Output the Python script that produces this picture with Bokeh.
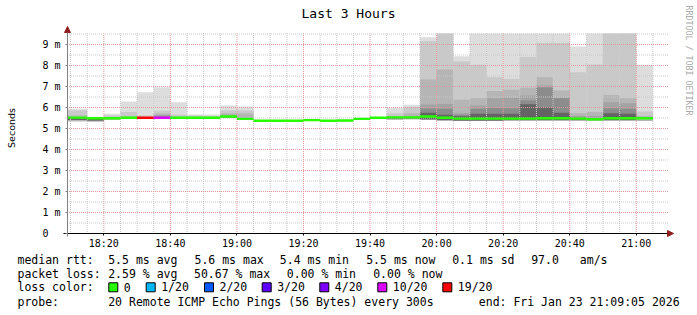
import numpy as np
import pandas as pd
from bokeh.plotting import figure
from bokeh.models import (ColumnDataSource, Range1d, FixedTicker, DatetimeTickFormatter,
                          Arrow, NormalHead)
from bokeh.core.properties import value
from bokeh.embed import file_html
from bokeh.resources import INLINE

# ---------------- data (values in milliseconds) ----------------
bin_start = pd.date_range("2026-01-23 18:05:00", periods=36, freq="5min")

median_ms = [5.52, 5.52, 5.49, 5.49, 5.51, 5.51, 5.51, 5.51, 5.51, 5.51, 5.57, 5.46,
             5.37, 5.37, 5.37, 5.40, 5.37, 5.38, 5.46, 5.51, 5.53, 5.53, 5.57, 5.51,
             5.47, 5.47, 5.47, 5.47, 5.47, 5.49, 5.49, 5.47, 5.44, 5.49, 5.49, 5.49]

loss_pings = [0, 0, 0, 0, 0, 19, 10, 0, 0, 0, 0, 0,
              0, 0, 0, 0, 0, 0, 0, 0, 0, 0, 0, 0,
              0, 0, 0, 0, 0, 0, 0, 0, 0, 0, 0, 0]

# smoke: upper edges of the grey bands (outermost = max ping)
smoke_1 = [5.94, 5.94, 5.56, 5.70, 6.29, 6.73, 6.97, 6.25, 5.67, 5.67, 6.10, 6.05,
           5.40, 5.40, 5.40, 5.44, 5.40, 5.40, 5.48, 5.55, 5.98, 6.13, 9.35, 9.60,
           8.44, 9.60, 9.60, 9.60, 9.60, 9.60, 9.60, 8.90, 9.60, 9.60, 9.60, 8.03]
smoke_2 = [5.86, 5.86, 5.52, 5.62, 5.78, 5.62, 5.85, 5.65, 5.62, 5.60, 5.86, 5.86,
           5.39, 5.39, 5.39, 5.42, 5.39, 5.40, 5.47, 5.53, 5.73, 6.02, 9.16, 9.60,
           8.19, 8.03, 7.44, 7.37, 8.40, 9.08, 9.08, 7.68, 8.05, 9.60, 9.60, 5.81]
smoke_3 = [5.62, 5.62, 5.50, 5.55, 5.58, 5.55, 5.72, 5.56, 5.55, 5.55, 5.72, 5.72,
           5.37, 5.37, 5.37, 5.40, 5.37, 5.38, 5.46, 5.51, 5.60, 5.73, 7.33, 7.81,
           6.37, 6.44, 6.78, 6.84, 6.94, 7.44, 6.81, 5.73, 5.78, 6.60, 6.44, 5.60]
smoke_4 = [5.52, 5.52, 5.49, 5.49, 5.51, 5.51, 5.64, 5.51, 5.51, 5.51, 5.65, 5.46,
           5.37, 5.37, 5.37, 5.40, 5.37, 5.38, 5.46, 5.51, 5.53, 5.60, 6.14, 6.17,
           5.73, 6.10, 6.44, 6.46, 6.57, 7.05, 6.46, 5.60, 5.60, 6.25, 6.20, 5.49]
smoke_5 = [5.52, 5.52, 5.49, 5.49, 5.51, 5.51, 5.58, 5.51, 5.51, 5.51, 5.60, 5.46,
           5.37, 5.37, 5.37, 5.40, 5.37, 5.38, 5.46, 5.51, 5.53, 5.55, 5.95, 5.94,
           5.65, 5.94, 5.98, 5.97, 6.33, 6.95, 6.44, 5.55, 5.44, 5.97, 5.94, 5.49]
smoke_6 = [5.52, 5.52, 5.49, 5.49, 5.51, 5.51, 5.51, 5.51, 5.51, 5.51, 5.57, 5.46,
           5.37, 5.37, 5.37, 5.40, 5.37, 5.38, 5.46, 5.51, 5.53, 5.53, 5.75, 5.65,
           5.58, 5.70, 5.70, 5.70, 6.15, 6.00, 5.75, 5.47, 5.44, 5.73, 5.70, 5.49]
# lower edges: minimum ping (outer bands) and lower edge of the inner bands
smoke_lo = [5.35, 5.35, 5.33, 5.42, 5.46, 5.47, 5.45, 5.47, 5.48, 5.48, 5.50, 5.40,
            5.34, 5.34, 5.34, 5.36, 5.34, 5.34, 5.42, 5.46, 5.42, 5.44, 5.40, 5.36,
            5.36, 5.36, 5.36, 5.36, 5.36, 5.36, 5.36, 5.36, 5.36, 5.36, 5.36, 5.36]
smoke_lo_in = [5.41, 5.41, 5.38, 5.49, 5.51, 5.51, 5.48, 5.51, 5.51, 5.51, 5.52, 5.46,
               5.37, 5.37, 5.37, 5.40, 5.37, 5.38, 5.46, 5.51, 5.47, 5.48, 5.44, 5.40,
               5.38, 5.38, 5.38, 5.40, 5.40, 5.40, 5.40, 5.42, 5.40, 5.40, 5.40, 5.46]

loss_levels = [0, 1, 2, 3, 4, 10, 19]
loss_labels = ["0", "1/20", "2/20", "3/20", "4/20", "10/20", "19/20"]
loss_colors = ["#26ff00", "#00b8ff", "#0059ff", "#5e00ff", "#7e00ff", "#dd00ff", "#ff0000"]

y_ticks = [0, 1, 2, 3, 4, 5, 6, 7, 8, 9]
y_minor = [0.5, 1.5, 2.5, 3.5, 4.5, 5.5, 6.5, 7.5, 8.5, 9.5]
y_tick_labels = ["0\u00a0\u00a0", "1 m", "2 m", "3 m", "4 m", "5 m", "6 m", "7 m", "8 m", "9 m"]

stat_rtt = ["5.5 ms avg", "5.6 ms max", "5.4 ms min", "5.5 ms now", "0.1 ms sd", "97.0", "am/s"]
stat_loss = ["2.59 % avg", "50.67 % max", "0.00 % min", "0.00 % now"]
probe_text = "20 Remote ICMP Echo Pings (56 Bytes) every 300s"
end_text = "end: Fri Jan 23 21:09:05 2026"

# ---------------- geometry (canvas pixels -> data) ----------------
W, H = 697, 315
FL, FR, FT, FB = 67, 666, 33, 233          # graph area inside the canvas
PX_PER_MS = 21.0
t_start = pd.Timestamp("2026-01-23 18:09:05")
t_end = pd.Timestamp("2026-01-23 21:09:05")


def ms(ts):
    return ts.value / 1e6


x0, x1 = ms(t_start), ms(t_end)


def X(px):
    return x0 + (px - FL) * (x1 - x0) / (FR - FL)


def Y(py):
    return (FB - py) / PX_PER_MS


MONO = "DejaVu Sans Mono"

p = figure(width=W, height=H, x_axis_type="datetime",
           x_range=Range1d(X(0), X(W)), y_range=Range1d(Y(H), Y(0)),
           output_backend="svg", toolbar_location=None, min_border=0)
p.min_border_left = p.min_border_right = p.min_border_top = p.min_border_bottom = 0
p.outline_line_color = None
p.background_fill_color = "white"
p.border_fill_color = "white"
p.xgrid.visible = False
p.ygrid.visible = False

# ---------------- smoke + median ----------------
color_of = {lv: c for lv, c in zip(loss_levels, loss_colors)}
lefts = [max(ms(t), x0) for t in bin_start]
rights = [ms(t + pd.Timedelta(minutes=5)) for t in bin_start]
src = ColumnDataSource(dict(
    left=lefts, right=rights,
    med=median_ms, color=[color_of[v] for v in loss_pings],
    s1=smoke_1, s2=smoke_2, s3=smoke_3, s4=smoke_4, s5=smoke_5, s6=smoke_6,
    lo=smoke_lo, lo_in=smoke_lo_in))

top_clip = Y(FT)
for k in ("s1", "s2", "s3", "s4", "s5", "s6"):
    src.data[k] = [min(v, top_clip) for v in src.data[k]]

band_cols = ["#dddddd", "#c9c9c9", "#b5b5b5", "#a3a3a3", "#8c8c8c", "#646464"]
for i, c in enumerate(band_cols):
    bottom = "lo" if i < 3 else "lo_in"
    p.quad(left="left", right="right", bottom=bottom, top="s%d" % (i + 1),
           fill_color=c, line_color=None, source=src)

# ---------------- grid (dotted, over the smoke) ----------------
major_x = pd.date_range("2026-01-23 18:20", "2026-01-23 21:00", freq="20min")
minor_x = [t for t in pd.date_range("2026-01-23 18:10", "2026-01-23 21:05", freq="5min")
           if t not in set(major_x)]
mx = [ms(t) for t in major_x]
nx = [ms(t) for t in minor_x]
g_bot = Y(233.5)
g_top = Y(33)
g_left = X(66.5)
g_right = X(668)
grid_minor = "#c8c8c8"
grid_major = "#e49a9a"
p.segment(x0=nx, y0=g_bot, x1=nx, y1=g_top, line_color=grid_minor, line_dash="1 1",
          line_width=1)
p.segment(x0=g_left, y0=y_minor, x1=g_right, y1=y_minor, line_color=grid_minor,
          line_dash="1 1", line_width=1)
p.segment(x0=mx, y0=g_bot, x1=mx, y1=g_top, line_color=grid_major, line_dash="1 1",
          line_width=1)
p.segment(x0=g_left, y0=y_ticks[1:], x1=g_right, y1=y_ticks[1:], line_color=grid_major,
          line_dash="1 1", line_width=1)

p.segment(x0="left", y0="med", x1="right", y1="med", line_color="color",
          line_width=2.4, source=src)

# ---------------- axes ----------------
xt = FixedTicker(ticks=mx, minor_ticks=nx)
yt = FixedTicker(ticks=y_ticks, minor_ticks=y_minor)
p.xaxis.ticker = xt
p.yaxis.ticker = yt
p.xaxis.fixed_location = 0
p.yaxis.fixed_location = x0
p.xaxis.bounds = (X(63), X(668))
p.yaxis.bounds = (Y(236), Y(33))

fmt = "%H:%M"
p.xaxis.formatter = DatetimeTickFormatter(minsec=fmt, minutes=fmt, hourmin=fmt, hours=fmt)
p.yaxis.major_label_overrides = {v: s for v, s in zip(y_ticks, y_tick_labels)}

for ax in (p.xaxis, p.yaxis):
    ax.major_label_text_font = MONO
    ax.major_label_text_font_size = "10px"
    ax.major_label_text_color = "black"
    ax.major_tick_in = 0
    ax.major_tick_out = 2
    ax.minor_tick_in = 0
    ax.minor_tick_out = 0
p.xaxis.axis_line_color = "black"
p.xaxis.major_tick_line_color = "black"
p.xaxis.major_label_standoff = 2
p.yaxis.axis_line_color = "#808080"
p.yaxis.major_tick_line_color = "#808080"
p.yaxis.major_label_standoff = 5

arrow_col = "#902020"
p.add_layout(Arrow(x_start=X(667), y_start=0, x_end=X(673), y_end=0,
                   line_color="black", line_width=1,
                   end=NormalHead(size=6, fill_color=arrow_col, line_color=arrow_col)))
p.add_layout(Arrow(x_start=x0, y_start=Y(34), x_end=x0, y_end=Y(26),
                   line_color="#808080", line_width=1,
                   end=NormalHead(size=6, fill_color=arrow_col, line_color=arrow_col)))

# ---------------- texts ----------------
def put(px_list, py, texts, size="11.5px", align="left", color="black", font=MONO,
        angle=0.0, baseline="middle"):
    p.text(x=[X(v) for v in px_list], y=[Y(py)] * len(px_list), text=texts,
           text_font=value(font), text_font_size=size, text_align=align,
           text_baseline=baseline, text_color=color, angle=angle)


put([348], 13, ["Last 3 Hours"], size="13px", align="center")
put([688.5], 5, ["RRDTOOL / TOBI OETIKER"], size="8.3px", color="#aaaaaa",
    angle=-np.pi / 2)
p.text(x=[X(11)], y=[Y(127.5)], text=["Seconds"], text_font=value("DejaVu Sans"),
       text_font_size="9.5px", text_align="center", text_baseline="middle",
       text_color="black", angle=np.pi / 2)

row_y = [259.3, 273.3, 286.8, 301]
put([17], row_y[0], ["median rtt:"])
put([107.7, 194, 279.3, 365.7, 451.7, 530.7, 579.3], row_y[0], stat_rtt)
put([17], row_y[1], ["packet loss:"])
put([107.7, 193.5, 286.3, 372.7], row_y[1], stat_loss)
put([17], row_y[2], ["loss color:"])
box_left = [108.3, 145.7, 204, 261.7, 319.3, 377.3, 442.3]
p.quad(left=[X(b) for b in box_left], right=[X(b + 9) for b in box_left],
       top=Y(282.3), bottom=Y(291.3), fill_color=loss_colors, line_color="black",
       line_width=1)
put([b + 15 for b in box_left], row_y[2], loss_labels)
put([17], row_y[3], ["probe:"])
put([107.7, 478.3], row_y[3], [probe_text, end_text])

open("out.html", "w").write(file_html(p, INLINE))
